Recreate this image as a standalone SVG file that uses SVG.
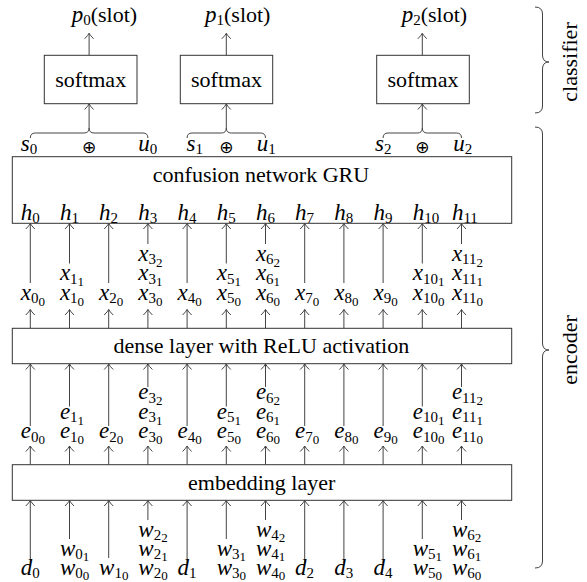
<svg xmlns="http://www.w3.org/2000/svg" width="587" height="582" viewBox="0 0 587 582">
<defs>
<style>
.box{fill:#fff;stroke:#333;stroke-width:1}
.ln{fill:none;stroke:#444;stroke-width:1;marker-end:url(#ah)}
.dl{fill:none;stroke:#999;stroke-width:1;stroke-dasharray:3 2.5;marker-end:url(#ahg)}
.br{fill:none;stroke:#444;stroke-width:1}
.t{font-family:"Liberation Serif","DejaVu Serif",serif;font-size:22px;fill:#000}
.m{font-family:"Liberation Serif","DejaVu Serif",serif;font-style:italic;font-size:23px;fill:#000}
.s{font-style:normal;font-size:15px}
.ss{font-style:normal;font-size:13px}
.r{font-style:normal;font-size:22px}
.op{font-family:"DejaVu Sans",sans-serif;font-size:17px;fill:#000}
</style>
<marker id="ah" viewBox="-7 -6 8 12" markerWidth="8" markerHeight="12" refX="0" refY="0" orient="auto" markerUnits="userSpaceOnUse"><path d="M-5.5 -4.5 Q-2 -1 0 0 Q-2 1 -5.5 4.5" fill="none" stroke="#444" stroke-width="1"/></marker>
<marker id="ahg" viewBox="-7 -6 8 12" markerWidth="8" markerHeight="12" refX="0" refY="0" orient="auto" markerUnits="userSpaceOnUse"><path d="M-5.5 -4.5 Q-2 -1 0 0 Q-2 1 -5.5 4.5" fill="none" stroke="#999" stroke-width="1"/></marker>
</defs>

<g id="connectors">
<path class="ln" d="M89.1 55.3 V33.3"/>
<path class="ln" d="M226.3 55.3 V33.3"/>
<path class="ln" d="M422.3 55.3 V33.3"/>
<path class="ln" d="M89.1 128 V104"/>
<path class="ln" d="M226.3 128 V104"/>
<path class="ln" d="M422.3 128 V104"/>
<path class="br" d="M30.3 138 Q30.3 133 35.3 133 L84.1 133 Q89.1 133 89.1 128 Q89.1 133 94.1 133 L142.9 133 Q147.9 133 147.9 138"/>
<path class="br" d="M187.1 138 Q187.1 133 192.1 133 L221.3 133 Q226.3 133 226.3 128 Q226.3 133 231.3 133 L260.5 133 Q265.5 133 265.5 138"/>
<path class="br" d="M383.1 138 Q383.1 133 388.1 133 L417.3 133 Q422.3 133 422.3 128 Q422.3 133 427.3 133 L456.5 133 Q461.5 133 461.5 138"/>
<path class="dl" d="M30.3 198 V163"/>
<path class="dl" d="M147.9 198 V163"/>
<path class="dl" d="M187.1 198 V163"/>
<path class="dl" d="M265.5 198 V163"/>
<path class="dl" d="M383.1 198 V163"/>
<path class="dl" d="M461.5 198 V163"/>
<path class="ln" d="M30.3 283 V223.5"/>
<path class="ln" d="M69.5 263.5 V223.5"/>
<path class="ln" d="M108.7 283 V223.5"/>
<path class="ln" d="M147.9 244 V223.5"/>
<path class="ln" d="M187.1 283 V223.5"/>
<path class="ln" d="M226.3 263.5 V223.5"/>
<path class="ln" d="M265.5 244 V223.5"/>
<path class="ln" d="M304.7 283 V223.5"/>
<path class="ln" d="M343.9 283 V223.5"/>
<path class="ln" d="M383.1 283 V223.5"/>
<path class="ln" d="M422.3 263.5 V223.5"/>
<path class="ln" d="M461.5 244 V223.5"/>
<path class="ln" d="M30.3 328.3 V309.5"/>
<path class="ln" d="M69.5 328.3 V309.5"/>
<path class="ln" d="M108.7 328.3 V309.5"/>
<path class="ln" d="M147.9 328.3 V309.5"/>
<path class="ln" d="M187.1 328.3 V309.5"/>
<path class="ln" d="M226.3 328.3 V309.5"/>
<path class="ln" d="M265.5 328.3 V309.5"/>
<path class="ln" d="M304.7 328.3 V309.5"/>
<path class="ln" d="M343.9 328.3 V309.5"/>
<path class="ln" d="M383.1 328.3 V309.5"/>
<path class="ln" d="M422.3 328.3 V309.5"/>
<path class="ln" d="M461.5 328.3 V309.5"/>
<path class="ln" d="M30.3 426 V364"/>
<path class="ln" d="M69.5 406.5 V364"/>
<path class="ln" d="M108.7 426 V364"/>
<path class="ln" d="M147.9 387 V364"/>
<path class="ln" d="M187.1 426 V364"/>
<path class="ln" d="M226.3 406.5 V364"/>
<path class="ln" d="M265.5 387 V364"/>
<path class="ln" d="M304.7 426 V364"/>
<path class="ln" d="M343.9 426 V364"/>
<path class="ln" d="M383.1 426 V364"/>
<path class="ln" d="M422.3 406.5 V364"/>
<path class="ln" d="M461.5 387 V364"/>
<path class="ln" d="M30.3 464.7 V446"/>
<path class="ln" d="M69.5 464.7 V446"/>
<path class="ln" d="M108.7 464.7 V446"/>
<path class="ln" d="M147.9 464.7 V446"/>
<path class="ln" d="M187.1 464.7 V446"/>
<path class="ln" d="M226.3 464.7 V446"/>
<path class="ln" d="M265.5 464.7 V446"/>
<path class="ln" d="M304.7 464.7 V446"/>
<path class="ln" d="M343.9 464.7 V446"/>
<path class="ln" d="M383.1 464.7 V446"/>
<path class="ln" d="M422.3 464.7 V446"/>
<path class="ln" d="M461.5 464.7 V446"/>
<path class="ln" d="M30.3 563 V500.5"/>
<path class="ln" d="M69.5 539 V500.5"/>
<path class="ln" d="M108.7 558 V500.5"/>
<path class="ln" d="M147.9 520 V500.5"/>
<path class="ln" d="M187.1 563 V500.5"/>
<path class="ln" d="M226.3 539 V500.5"/>
<path class="ln" d="M265.5 520 V500.5"/>
<path class="ln" d="M304.7 563 V500.5"/>
<path class="ln" d="M343.9 563 V500.5"/>
<path class="ln" d="M383.1 563 V500.5"/>
<path class="ln" d="M422.3 539 V500.5"/>
<path class="ln" d="M461.5 520 V500.5"/>
<path class="br" d="M535 7 Q542.5 7 542.5 14 L542.5 55 Q542.5 62 549 62 Q542.5 62 542.5 69 L542.5 106 Q542.5 113 535 113"/>
<path class="br" d="M535 127 Q542.5 127 542.5 134 L542.5 343 Q542.5 350 549 350 Q542.5 350 542.5 357 L542.5 561 Q542.5 568 535 568"/>
</g>

<g id="p-labels">
<text class="m" x="71.7" y="22">p<tspan class="s" dy="3">0</tspan><tspan class="r" dy="-3">(slot)</tspan></text>
<text class="m" x="205" y="22">p<tspan class="s" dy="3">1</tspan><tspan class="r" dy="-3">(slot)</tspan></text>
<text class="m" x="401.7" y="22">p<tspan class="s" dy="3">2</tspan><tspan class="r" dy="-3">(slot)</tspan></text>
</g>

<g id="softmax0"><rect class="box" x="44.3" y="55.3" width="92.7" height="48.4"/><text class="t" x="90.7" y="87" text-anchor="middle">softmax</text></g>
<g id="softmax1"><rect class="box" x="180.3" y="55.3" width="92.4" height="48.4"/><text class="t" x="226.5" y="87" text-anchor="middle">softmax</text></g>
<g id="softmax2"><rect class="box" x="376.7" y="55.3" width="92.6" height="48.4"/><text class="t" x="423" y="87" text-anchor="middle">softmax</text></g>

<g id="concat-labels">
<text class="m" x="20.7" y="151">s<tspan class="s" dy="3">0</tspan></text>
<text class="op" x="89.1" y="152.5" text-anchor="middle">⊕</text>
<text class="m" x="138.3" y="151">u<tspan class="s" dy="3">0</tspan></text>
<text class="m" x="186.5" y="151">s<tspan class="s" dy="3">1</tspan></text>
<text class="op" x="226.3" y="152.5" text-anchor="middle">⊕</text>
<text class="m" x="256.7" y="151">u<tspan class="s" dy="3">1</tspan></text>
<text class="m" x="375" y="151">s<tspan class="s" dy="3">2</tspan></text>
<text class="op" x="422.3" y="152.5" text-anchor="middle">⊕</text>
<text class="m" x="453.3" y="151">u<tspan class="s" dy="3">2</tspan></text>
</g>

<g id="gru">
<rect class="box" x="12.3" y="156.7" width="499.4" height="66.6"/>
<text class="t" x="261" y="181.5" text-anchor="middle">confusion network GRU</text>
<text class="m" x="20.7" y="220">h<tspan class="s" dy="3">0</tspan></text>
<text class="m" x="59.9" y="220">h<tspan class="s" dy="3">1</tspan></text>
<text class="m" x="99.1" y="220">h<tspan class="s" dy="3">2</tspan></text>
<text class="m" x="138.3" y="220">h<tspan class="s" dy="3">3</tspan></text>
<text class="m" x="177.5" y="220">h<tspan class="s" dy="3">4</tspan></text>
<text class="m" x="216.7" y="220">h<tspan class="s" dy="3">5</tspan></text>
<text class="m" x="255.9" y="220">h<tspan class="s" dy="3">6</tspan></text>
<text class="m" x="295.1" y="220">h<tspan class="s" dy="3">7</tspan></text>
<text class="m" x="334.3" y="220">h<tspan class="s" dy="3">8</tspan></text>
<text class="m" x="373.5" y="220">h<tspan class="s" dy="3">9</tspan></text>
<text class="m" x="412.7" y="220">h<tspan class="s" dy="3">10</tspan></text>
<text class="m" x="451.9" y="220">h<tspan class="s" dy="3">11</tspan></text>
</g>

<g id="x-labels">
<text class="m" x="20.7" y="299.5">x<tspan class="s" dy="3.5">0</tspan><tspan class="ss" dy="2.5">0</tspan></text>
<text class="m" x="59.9" y="299.5">x<tspan class="s" dy="3.5">1</tspan><tspan class="ss" dy="2.5">0</tspan></text>
<text class="m" x="59.9" y="280">x<tspan class="s" dy="3.5">1</tspan><tspan class="ss" dy="2.5">1</tspan></text>
<text class="m" x="99.1" y="299.5">x<tspan class="s" dy="3.5">2</tspan><tspan class="ss" dy="2.5">0</tspan></text>
<text class="m" x="138.3" y="299.5">x<tspan class="s" dy="3.5">3</tspan><tspan class="ss" dy="2.5">0</tspan></text>
<text class="m" x="138.3" y="280">x<tspan class="s" dy="3.5">3</tspan><tspan class="ss" dy="2.5">1</tspan></text>
<text class="m" x="138.3" y="260.5">x<tspan class="s" dy="3.5">3</tspan><tspan class="ss" dy="2.5">2</tspan></text>
<text class="m" x="177.5" y="299.5">x<tspan class="s" dy="3.5">4</tspan><tspan class="ss" dy="2.5">0</tspan></text>
<text class="m" x="216.7" y="299.5">x<tspan class="s" dy="3.5">5</tspan><tspan class="ss" dy="2.5">0</tspan></text>
<text class="m" x="216.7" y="280">x<tspan class="s" dy="3.5">5</tspan><tspan class="ss" dy="2.5">1</tspan></text>
<text class="m" x="255.9" y="299.5">x<tspan class="s" dy="3.5">6</tspan><tspan class="ss" dy="2.5">0</tspan></text>
<text class="m" x="255.9" y="280">x<tspan class="s" dy="3.5">6</tspan><tspan class="ss" dy="2.5">1</tspan></text>
<text class="m" x="255.9" y="260.5">x<tspan class="s" dy="3.5">6</tspan><tspan class="ss" dy="2.5">2</tspan></text>
<text class="m" x="295.1" y="299.5">x<tspan class="s" dy="3.5">7</tspan><tspan class="ss" dy="2.5">0</tspan></text>
<text class="m" x="334.3" y="299.5">x<tspan class="s" dy="3.5">8</tspan><tspan class="ss" dy="2.5">0</tspan></text>
<text class="m" x="373.5" y="299.5">x<tspan class="s" dy="3.5">9</tspan><tspan class="ss" dy="2.5">0</tspan></text>
<text class="m" x="412.7" y="299.5">x<tspan class="s" dy="3.5">10</tspan><tspan class="ss" dy="2.5">0</tspan></text>
<text class="m" x="412.7" y="280">x<tspan class="s" dy="3.5">10</tspan><tspan class="ss" dy="2.5">1</tspan></text>
<text class="m" x="451.9" y="299.5">x<tspan class="s" dy="3.5">11</tspan><tspan class="ss" dy="2.5">0</tspan></text>
<text class="m" x="451.9" y="280">x<tspan class="s" dy="3.5">11</tspan><tspan class="ss" dy="2.5">1</tspan></text>
<text class="m" x="451.9" y="260.5">x<tspan class="s" dy="3.5">11</tspan><tspan class="ss" dy="2.5">2</tspan></text>
</g>

<g id="dense">
<rect class="box" x="12.3" y="328.3" width="499.4" height="35.4"/>
<text class="t" x="261.3" y="353.3" text-anchor="middle">dense layer with ReLU activation</text>
</g>

<g id="e-labels">
<text class="m" x="20.7" y="438">e<tspan class="s" dy="3.5">0</tspan><tspan class="ss" dy="2.5">0</tspan></text>
<text class="m" x="59.9" y="438">e<tspan class="s" dy="3.5">1</tspan><tspan class="ss" dy="2.5">0</tspan></text>
<text class="m" x="59.9" y="418.5">e<tspan class="s" dy="3.5">1</tspan><tspan class="ss" dy="2.5">1</tspan></text>
<text class="m" x="99.1" y="438">e<tspan class="s" dy="3.5">2</tspan><tspan class="ss" dy="2.5">0</tspan></text>
<text class="m" x="138.3" y="438">e<tspan class="s" dy="3.5">3</tspan><tspan class="ss" dy="2.5">0</tspan></text>
<text class="m" x="138.3" y="418.5">e<tspan class="s" dy="3.5">3</tspan><tspan class="ss" dy="2.5">1</tspan></text>
<text class="m" x="138.3" y="399">e<tspan class="s" dy="3.5">3</tspan><tspan class="ss" dy="2.5">2</tspan></text>
<text class="m" x="177.5" y="438">e<tspan class="s" dy="3.5">4</tspan><tspan class="ss" dy="2.5">0</tspan></text>
<text class="m" x="216.7" y="438">e<tspan class="s" dy="3.5">5</tspan><tspan class="ss" dy="2.5">0</tspan></text>
<text class="m" x="216.7" y="418.5">e<tspan class="s" dy="3.5">5</tspan><tspan class="ss" dy="2.5">1</tspan></text>
<text class="m" x="255.9" y="438">e<tspan class="s" dy="3.5">6</tspan><tspan class="ss" dy="2.5">0</tspan></text>
<text class="m" x="255.9" y="418.5">e<tspan class="s" dy="3.5">6</tspan><tspan class="ss" dy="2.5">1</tspan></text>
<text class="m" x="255.9" y="399">e<tspan class="s" dy="3.5">6</tspan><tspan class="ss" dy="2.5">2</tspan></text>
<text class="m" x="295.1" y="438">e<tspan class="s" dy="3.5">7</tspan><tspan class="ss" dy="2.5">0</tspan></text>
<text class="m" x="334.3" y="438">e<tspan class="s" dy="3.5">8</tspan><tspan class="ss" dy="2.5">0</tspan></text>
<text class="m" x="373.5" y="438">e<tspan class="s" dy="3.5">9</tspan><tspan class="ss" dy="2.5">0</tspan></text>
<text class="m" x="412.7" y="438">e<tspan class="s" dy="3.5">10</tspan><tspan class="ss" dy="2.5">0</tspan></text>
<text class="m" x="412.7" y="418.5">e<tspan class="s" dy="3.5">10</tspan><tspan class="ss" dy="2.5">1</tspan></text>
<text class="m" x="451.9" y="438">e<tspan class="s" dy="3.5">11</tspan><tspan class="ss" dy="2.5">0</tspan></text>
<text class="m" x="451.9" y="418.5">e<tspan class="s" dy="3.5">11</tspan><tspan class="ss" dy="2.5">1</tspan></text>
<text class="m" x="451.9" y="399">e<tspan class="s" dy="3.5">11</tspan><tspan class="ss" dy="2.5">2</tspan></text>
</g>

<g id="embedding">
<rect class="box" x="12.3" y="464.7" width="499.4" height="35.6"/>
<text class="t" x="261.7" y="490" text-anchor="middle">embedding layer</text>
</g>

<g id="inputs">
<text class="m" x="20.7" y="575">d<tspan class="s" dy="3">0</tspan></text>
<text class="m" x="59.9" y="575">w<tspan class="s" dy="3">0</tspan><tspan class="ss" dy="2">0</tspan></text>
<text class="m" x="59.9" y="556">w<tspan class="s" dy="3">0</tspan><tspan class="ss" dy="2">1</tspan></text>
<text class="m" x="99.1" y="575">w<tspan class="s" dy="3">1</tspan><tspan class="ss" dy="2">0</tspan></text>
<text class="m" x="138.3" y="575">w<tspan class="s" dy="3">2</tspan><tspan class="ss" dy="2">0</tspan></text>
<text class="m" x="138.3" y="556">w<tspan class="s" dy="3">2</tspan><tspan class="ss" dy="2">1</tspan></text>
<text class="m" x="138.3" y="537">w<tspan class="s" dy="3">2</tspan><tspan class="ss" dy="2">2</tspan></text>
<text class="m" x="177.5" y="575">d<tspan class="s" dy="3">1</tspan></text>
<text class="m" x="216.7" y="575">w<tspan class="s" dy="3">3</tspan><tspan class="ss" dy="2">0</tspan></text>
<text class="m" x="216.7" y="556">w<tspan class="s" dy="3">3</tspan><tspan class="ss" dy="2">1</tspan></text>
<text class="m" x="255.9" y="575">w<tspan class="s" dy="3">4</tspan><tspan class="ss" dy="2">0</tspan></text>
<text class="m" x="255.9" y="556">w<tspan class="s" dy="3">4</tspan><tspan class="ss" dy="2">1</tspan></text>
<text class="m" x="255.9" y="537">w<tspan class="s" dy="3">4</tspan><tspan class="ss" dy="2">2</tspan></text>
<text class="m" x="295.1" y="575">d<tspan class="s" dy="3">2</tspan></text>
<text class="m" x="334.3" y="575">d<tspan class="s" dy="3">3</tspan></text>
<text class="m" x="373.5" y="575">d<tspan class="s" dy="3">4</tspan></text>
<text class="m" x="412.7" y="575">w<tspan class="s" dy="3">5</tspan><tspan class="ss" dy="2">0</tspan></text>
<text class="m" x="412.7" y="556">w<tspan class="s" dy="3">5</tspan><tspan class="ss" dy="2">1</tspan></text>
<text class="m" x="451.9" y="575">w<tspan class="s" dy="3">6</tspan><tspan class="ss" dy="2">0</tspan></text>
<text class="m" x="451.9" y="556">w<tspan class="s" dy="3">6</tspan><tspan class="ss" dy="2">1</tspan></text>
<text class="m" x="451.9" y="537">w<tspan class="s" dy="3">6</tspan><tspan class="ss" dy="2">2</tspan></text>
</g>

<g id="classifier-label"><text class="t" transform="translate(576.5,62) rotate(-90)" text-anchor="middle">classifier</text></g>
<g id="encoder-label"><text class="t" transform="translate(576.5,350) rotate(-90)" text-anchor="middle">encoder</text></g>
</svg>
